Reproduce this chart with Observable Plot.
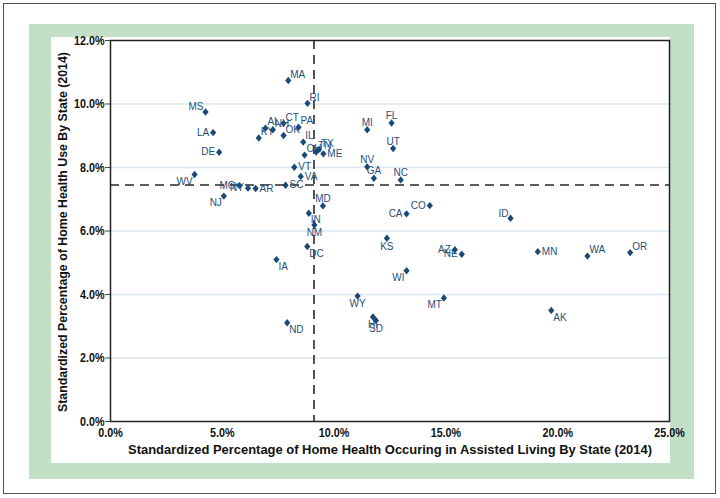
<!DOCTYPE html>
<html>
<head>
<meta charset="utf-8">
<script src="https://cdn.jsdelivr.net/npm/d3@7"></script>
<script src="https://cdn.jsdelivr.net/npm/@observablehq/plot@0.6"></script>
<style>
  html, body { margin: 0; padding: 0; background: #fff; }
  #wrap { position: relative; width: 720px; height: 498px; overflow: hidden; background: #fff; }
  .abs { position: absolute; }
  #border { left: 3px; top: 3px; width: 713px; height: 491px; border: 1.5px solid #555; box-sizing: border-box; }
  #green { left: 29px; top: 24px; width: 665px; height: 455px; background: #c3dfc5; }
  #white { left: 51px; top: 37px; width: 619px; height: 426px; background: #fff; }
  #chart { left: 0; top: 0; }
  #titles { left: 0; top: 0; }
</style>
</head>
<body>
<div id="wrap">
  <div id="border" class="abs"></div>
  <div id="green" class="abs"></div>
  <div id="white" class="abs"></div>
  <div id="chart" class="abs"></div>
  <svg id="titles" class="abs" width="720" height="498" style="pointer-events:none">
    <text id="xtitle" x="128" y="453.5" font-family="Liberation Sans, Arial, sans-serif" font-weight="bold" font-size="12.8" fill="#111" textLength="524" lengthAdjust="spacingAndGlyphs">Standardized Percentage of Home Health Occuring in Assisted Living By State (2014)</text>
    <text id="ytitle" transform="translate(66.5,412) rotate(-90)" x="0" y="0" font-family="Liberation Sans, Arial, sans-serif" font-weight="bold" font-size="12.8" fill="#111" textLength="360" lengthAdjust="spacingAndGlyphs">Standardized Percentage of Home Health Use By State (2014)</text>
  </svg>
</div>
<script>
// ---- data ----
const states = ["MA","RI","MS","LA","DE","CT","AL","NH","KY","OK","PA","IL","OH","TN","ME","TX","VT","VA","WV","MO","NY","AR","SC","NJ","MD","IN","NM","DC","IA","FL","MI","UT","NV","GA","NC","CO","CA","KS","AZ","NE","WI","WY","MT","ND","HI","SD","ID","MN","WA","OR","AK"];
const assistedLivingPct = [7.95,8.81,4.25,4.59,4.86,7.74,6.93,7.26,6.63,7.74,8.41,8.62,8.68,9.20,9.52,9.32,8.22,8.51,3.76,5.77,6.15,6.49,7.83,5.07,9.50,8.87,9.12,8.80,7.42,12.57,11.48,12.64,11.48,11.78,12.98,14.28,13.24,12.36,15.40,15.71,13.24,11.05,14.91,7.90,11.74,11.87,17.89,19.11,21.33,23.24,19.71];
const homeHealthUsePct = [10.74,10.02,9.75,9.10,8.48,9.39,9.24,9.19,8.93,9.01,9.27,8.80,8.39,8.49,8.43,8.57,8.01,7.72,7.78,7.43,7.35,7.34,7.44,7.10,6.79,6.56,6.19,5.51,5.10,9.40,9.19,8.60,8.02,7.66,7.61,6.80,6.54,5.77,5.41,5.27,4.75,3.95,3.89,3.11,3.29,3.18,6.40,5.35,5.21,5.32,3.50];
const xTicks = [0,5,10,15,20,25];
const yTicks = [0,2,4,6,8,10,12];
const refX = [9.1];   // vertical reference line
const refY = [7.45];  // horizontal reference line

// label placement around each point (style only)
const placement = {
  MA:"ne",RI:"ne",MS:"nw",LA:"w",DE:"w",CT:"ne",AL:"ne",NH:"ne",KY:"ne",OK:"ne",PA:"ne",IL:"ne",
  OH:"ne",TN:"ne",ME:"e",TX:"ne",VT:"e",VA:"e",WV:"sw",MO:"w",NY:"w",AR:"e",SC:"e",NJ:"sw",
  MD:"n",IN:"se",NM:"s",DC:"se",IA:"se",FL:"n",MI:"n",UT:"n",NV:"n",GA:"n",NC:"n",CO:"w",CA:"w",
  KS:"s",AZ:"w",NE:"w",WI:"sw",WY:"s",MT:"sw",ND:"se",HI:"s",SD:"s",ID:"nw",MN:"e",WA:"ne",OR:"ne",AK:"se"
};
const offsets = {
  ne:{dx:2,dy:-6,textAnchor:"start"}, e:{dx:4,dy:0,textAnchor:"start"}, se:{dx:2,dy:7,textAnchor:"start"},
  n:{dx:0,dy:-7,textAnchor:"middle"}, s:{dx:0,dy:8,textAnchor:"middle"},
  nw:{dx:-2,dy:-5,textAnchor:"end"}, w:{dx:-4,dy:0,textAnchor:"end"}, sw:{dx:-2,dy:7,textAnchor:"end"}
};

const data = states.map((s, i) => ({state: s, x: assistedLivingPct[i], y: homeHealthUsePct[i], pos: placement[s]}));
const pct = d => d.toFixed(1) + "%";
const axisFont = '"Liberation Sans", Arial, sans-serif';
const pointColor = "#1b4874";
const labelColor = "#1f4e7a";

// small rhombus marker
const rhombus = {
  draw(ctx) {
    ctx.moveTo(0, -3.7); ctx.lineTo(3.1, 0); ctx.lineTo(0, 3.7); ctx.lineTo(-3.1, 0); ctx.closePath();
  }
};

const labelMarks = Object.keys(offsets).map(k =>
  Plot.text(data.filter(d => d.pos === k), {
    x: "x", y: "y", text: "state", fill: labelColor, fontSize: 10,
    fontFamily: '"Liberation Sans", Arial, sans-serif', lineAnchor: "middle", ...offsets[k]
  })
);

const chart = Plot.plot({
  width: 720, height: 498,
  marginLeft: 110, marginRight: 51, marginTop: 40, marginBottom: 77,
  style: {background: "transparent", overflow: "visible"},
  x: {domain: [0, 25]},
  y: {domain: [0, 12]},
  marks: [
    Plot.gridY(yTicks.filter(t => t > 0 && t < 12), {stroke: "#dce7f1", strokeOpacity: 1, strokeWidth: 1.5}),
    Plot.ruleX(refX, {stroke: "#2a2a2a", strokeWidth: 1.6, strokeDasharray: "9,6"}),
    Plot.ruleY(refY, {stroke: "#2a2a2a", strokeWidth: 1.6, strokeDasharray: "9,6"}),
    Plot.frame({stroke: "#222", strokeWidth: 1.5}),
    Plot.axisX({ticks: xTicks, tickFormat: pct, tickSize: 0, tickPadding: 6, label: null,
      fontSize: 12.8, fontWeight: "bold", fontFamily: axisFont, fill: "#111"}),
    Plot.axisY({ticks: yTicks, tickFormat: pct, tickSize: 5, tickPadding: 1, label: null,
      fontSize: 12.8, fontWeight: "bold", fontFamily: axisFont, fill: "#111", stroke: "#444"}),
    Plot.dot(data, {x: "x", y: "y", symbol: rhombus, r: 3.3, fill: pointColor}),
    ...labelMarks
  ]
});
document.getElementById("chart").appendChild(chart);

// condense the tick labels to mimic the narrow bold face of the original
chart.querySelectorAll('g[aria-label$="tick label"] text').forEach(el => {
  const L = el.getComputedTextLength();
  el.setAttribute("textLength", (L * 0.84).toFixed(1));
  el.setAttribute("lengthAdjust", "spacingAndGlyphs");
});
</script>
</body>
</html>
